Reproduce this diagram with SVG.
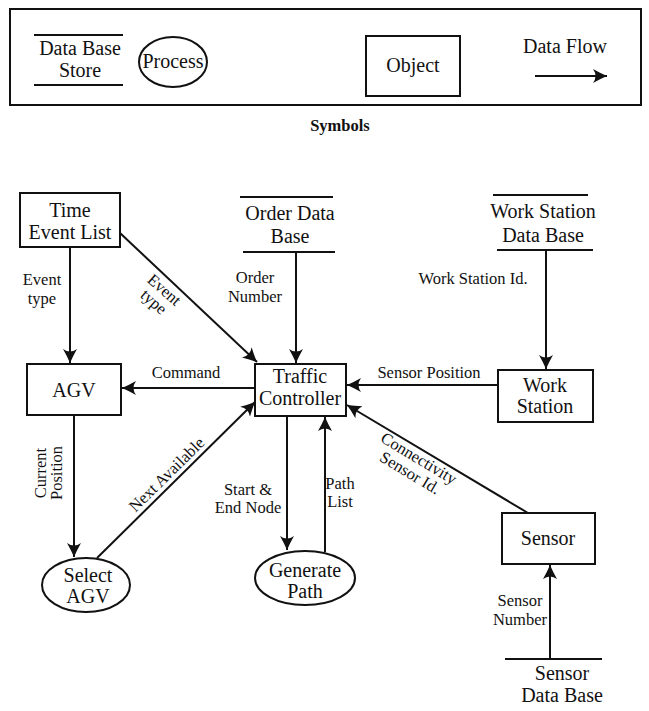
<svg xmlns="http://www.w3.org/2000/svg" width="649" height="711" viewBox="0 0 649 711">
<defs>
<style>
text{font-family:"Liberation Serif","Times New Roman",serif;fill:#111;text-anchor:middle}
.n{font-size:20px}
.l{font-size:16.5px}
.box{fill:#fff;stroke:#111;stroke-width:2}
.ln{stroke:#111;stroke-width:2;fill:none}
.c{stroke:#111;stroke-width:2;fill:none;marker-end:url(#ah)}
</style>
<marker id="ah" markerWidth="16" markerHeight="16" refX="14" refY="8" orient="auto" markerUnits="userSpaceOnUse">
<path d="M0,1 Q7,5 14,8 Q7,11 0,15 Q5,8 0,1 Z" fill="#111"/>
</marker>
</defs>
<rect width="649" height="711" fill="#fff"/>

<g id="legend">
<rect x="10" y="9" width="631" height="96" class="ln"/>
<line x1="34" y1="35" x2="123" y2="35" class="ln"/>
<line x1="34" y1="85" x2="123" y2="85" class="ln"/>
<text x="80" y="55" class="n">Data Base</text>
<text x="80" y="77" class="n">Store</text>
<ellipse cx="173" cy="62" rx="34" ry="25" class="ln"/>
<text x="173" y="68" class="n">Process</text>
<rect x="366" y="36" width="94" height="60" class="ln"/>
<text x="413" y="72" class="n">Object</text>
<text x="565" y="53" class="n">Data Flow</text>
<line x1="535" y1="76" x2="607" y2="76" class="c"/>
<text x="340" y="131" class="l" font-weight="bold">Symbols</text>
</g>

<g id="connectors">
<line x1="70" y1="248" x2="70" y2="363" class="c"/>
<line x1="120" y1="233" x2="257" y2="362" class="c"/>
<line x1="296" y1="253" x2="296" y2="363" class="c"/>
<line x1="255" y1="388" x2="122" y2="388" class="c"/>
<line x1="498" y1="385" x2="347" y2="385" class="c"/>
<line x1="546" y1="250" x2="546" y2="369" class="c"/>
<line x1="528" y1="513" x2="347" y2="405" class="c"/>
<line x1="74" y1="415" x2="74" y2="557" class="c"/>
<line x1="97" y1="558" x2="255" y2="402" class="c"/>
<line x1="287" y1="416" x2="287" y2="550" class="c"/>
<line x1="325" y1="552" x2="325" y2="417" class="c"/>
<line x1="550" y1="659" x2="550" y2="565" class="c"/>
<text x="42" y="285" class="l">Event</text>
<text x="42" y="304" class="l">type</text>
<text transform="translate(160.7,293.8) rotate(41)" class="l"><tspan x="0" y="0">Event</tspan><tspan x="0" y="16">type</tspan></text>
<text x="255" y="283" class="l">Order</text>
<text x="255" y="302" class="l">Number</text>
<text x="186" y="378" class="l">Command</text>
<text x="429" y="378" class="l">Sensor Position</text>
<text x="473" y="284" class="l">Work Station  Id.</text>
<text transform="translate(416,463) rotate(31)" class="l"><tspan x="0" y="0">Connectivity</tspan><tspan x="0" y="17">Sensor Id.</tspan></text>
<text transform="translate(0,473) rotate(-90)" class="l"><tspan x="0" y="46">Current</tspan><tspan x="0" y="62">Position</tspan></text>
<text transform="translate(170.5,478.4) rotate(-44.6)" class="l">Next Available</text>
<text x="248" y="495" class="l">Start &amp;</text>
<text x="248" y="513" class="l">End Node</text>
<text x="340" y="489" class="l">Path</text>
<text x="340" y="507" class="l">List</text>
<text x="520" y="606" class="l">Sensor</text>
<text x="520" y="625" class="l">Number</text>
</g>

<g id="time-event-list">
<rect x="20" y="193" width="100" height="54" class="box"/>
<text x="70" y="217" class="n">Time</text>
<text x="70" y="239" class="n">Event List</text>
</g>
<g id="order-db">
<line x1="240" y1="197" x2="333" y2="197" class="ln"/>
<line x1="243" y1="252" x2="335" y2="252" class="ln"/>
<text x="290" y="220" class="n">Order Data</text>
<text x="290" y="243" class="n">Base</text>
</g>
<g id="ws-db">
<line x1="493" y1="195" x2="588" y2="195" class="ln"/>
<line x1="497" y1="250" x2="593" y2="250" class="ln"/>
<text x="543" y="218" class="n">Work Station</text>
<text x="543" y="242" class="n">Data Base</text>
</g>
<g id="agv">
<rect x="27" y="364" width="94" height="51" class="box"/>
<text x="74" y="397" class="n">AGV</text>
</g>
<g id="traffic-controller">
<rect x="255" y="364" width="91" height="52" class="box"/>
<text x="300" y="383" class="n">Traffic</text>
<text x="300" y="405" class="n">Controller</text>
</g>
<g id="work-station">
<rect x="498" y="370" width="95" height="52" class="box"/>
<text x="545" y="392" class="n">Work</text>
<text x="545" y="413" class="n">Station</text>
</g>
<g id="sensor">
<rect x="502" y="513" width="93" height="51" class="box"/>
<text x="548" y="545" class="n">Sensor</text>
</g>
<g id="select-agv">
<ellipse cx="86" cy="585" rx="44" ry="27" class="box"/>
<text x="88" y="582" class="n">Select</text>
<text x="88" y="603" class="n">AGV</text>
</g>
<g id="generate-path">
<ellipse cx="305" cy="578" rx="50" ry="27" class="box"/>
<text x="305" y="577" class="n">Generate</text>
<text x="305" y="598" class="n">Path</text>
</g>
<g id="sensor-db">
<line x1="505" y1="659" x2="602" y2="659" class="ln"/>
<text x="562" y="680" class="n">Sensor</text>
<text x="562" y="702" class="n">Data Base</text>
</g>
</svg>
